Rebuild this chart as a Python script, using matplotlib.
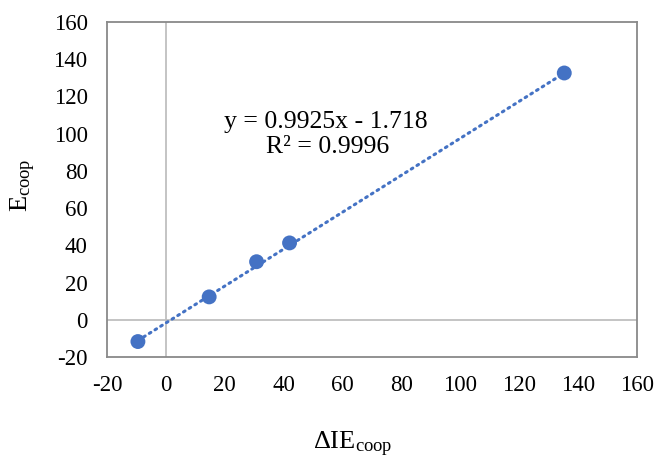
import numpy as np
import matplotlib.pyplot as plt

plt.rcParams['font.family'] = ['Liberation Serif', 'DejaVu Serif']
plt.rcParams['mathtext.fontset'] = 'custom'
plt.rcParams['mathtext.rm'] = 'Liberation Serif'
plt.rcParams['mathtext.it'] = 'Liberation Serif:italic'
plt.rcParams['axes.unicode_minus'] = False

# data
die_coop = [-9.5, 14.7, 30.8, 42.0, 135.3]
e_coop = [-11.7, 12.3, 31.2, 41.3, 132.6]
slope, intercept = 0.9925, -1.718
ticks = [-20, 0, 20, 40, 60, 80, 100, 120, 140, 160]

blue = '#4472C4'

fig = plt.figure(figsize=(6.59, 4.61), dpi=100)
ax = fig.add_axes([107 / 659, 1 - 357 / 461, 530 / 659, 335 / 461])

ax.axhline(0, color='#BFBFBF', lw=1.3, zorder=1)
ax.axvline(0, color='#BFBFBF', lw=1.3, zorder=1)

xf = np.array([min(die_coop), max(die_coop)])
ax.plot(xf, slope * xf + intercept, color=blue, lw=2.2, linestyle=(0, (0.6, 1.6)),
        dash_capstyle='round', zorder=2)
ax.scatter(die_coop, e_coop, s=115, color=blue, zorder=3, edgecolors='none')

ax.set_xlim(-20, 160)
ax.set_ylim(-20, 160)
ax.set_xticks(ticks)
ax.set_yticks(ticks)
ax.tick_params(length=0, labelsize=16.5)
ax.tick_params(axis='y', pad=14)
ax.tick_params(axis='x', pad=13)
for s in ax.spines.values():
    s.set_color('#898989')
    s.set_linewidth(1.3)

fig.text(326 / 659, 1 - 122 / 461, 'y = 0.9925x - 1.718', ha='center', va='center', fontsize=18.5)
fig.text(328 / 659, 1 - 147 / 461, 'R² = 0.9996', ha='center', va='center', fontsize=18.5)

fig.text(353 / 659, 1 - 444 / 461, r'$\mathrm{\Delta IE_{coop}}$', ha='center', va='center', fontsize=19)
fig.text(23 / 659, 1 - 185 / 461, r'$\mathrm{E_{coop}}$', ha='center', va='center',
         rotation=90, fontsize=19)

fig.savefig('out.png', dpi=100)
